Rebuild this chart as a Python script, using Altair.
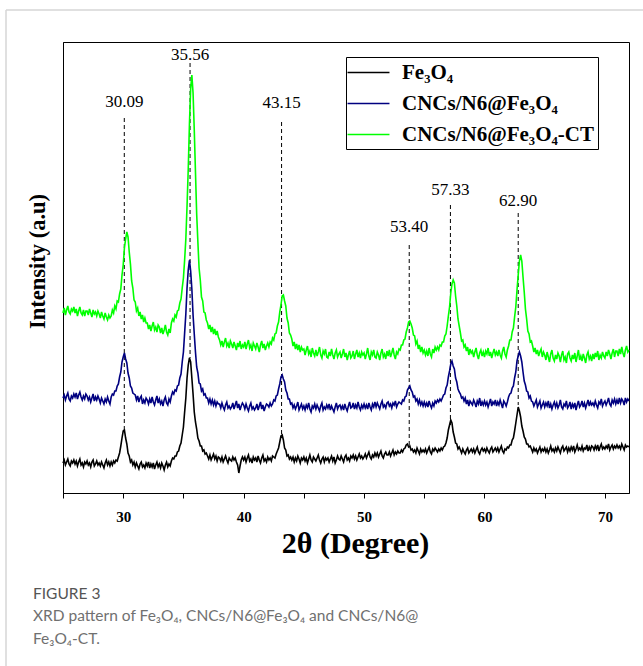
import altair as alt
import pandas as pd

# 2θ sampling of the diffractograms (instrument step)
THETA_START = 25.0
THETA_STEP = 0.1

series_names = ["Fe₃O₄", "CNCs/N6@Fe₃O₄", "CNCs/N6@Fe₃O₄-CT"]
series_colors = ["#000000", "#000080", "#00ff00"]

# Intensities (a.u., offset as in the figure), one row per degree (25.0 ... 72.0)
fe3o4 = [
    30,33,28,31,34,29,27,32,30,33,
    29,32,27,31,34,28,30,26,31,29,
    32,28,30,26,31,33,27,29,32,28,
    30,27,31,28,25,30,33,28,31,27,
    31,28,32,30,33,32,36,40,47,55,
    62,63,55,49,40,37,31,33,28,31,
    26,30,27,24,29,31,26,28,25,30,
    27,31,25,29,26,30,24,28,31,26,
    29,25,30,27,23,28,31,26,29,27,
    32,35,34,37,37,41,42,47,50,58,
    66,81,95,115,128,135,131,115,99,81,
    71,64,55,52,47,47,42,43,39,40,
    37,34,38,33,36,39,34,37,32,36,
    35,32,36,31,34,37,33,30,35,33,
    32,36,33,35,31,28,20,27,33,36,
    33,36,31,35,38,32,34,30,36,33,
    35,31,37,33,30,35,38,32,34,31,
    36,33,35,32,37,36,35,39,42,45,
    51,57,58,53,45,43,37,38,34,36,
    33,36,31,35,32,37,34,30,35,33,
    36,32,35,30,34,38,33,31,36,34,
    32,35,38,33,30,34,36,31,35,33,
    35,31,34,37,32,36,30,33,37,34,
    33,37,34,31,36,38,33,35,32,37,
    35,38,34,37,33,36,39,35,37,34,
    36,39,35,38,41,36,34,38,36,40,
    37,40,36,39,42,37,35,39,41,38,
    38,41,37,40,43,38,41,39,42,40,
    40,43,41,44,45,48,49,46,47,43,
    44,41,43,40,45,42,39,44,41,43,
    41,44,40,43,46,41,39,44,42,45,
    43,41,44,42,45,43,46,47,50,55,
    63,68,73,70,61,56,50,49,44,46,
    43,40,44,41,39,43,45,40,42,44,
    41,44,40,43,46,41,39,43,45,42,
    44,41,45,42,40,44,46,41,43,45,
    42,45,41,44,47,42,40,44,43,46,
    45,48,48,53,55,62,70,78,86,82,
    76,67,62,56,54,49,49,46,47,44,
    41,45,42,44,40,43,46,41,44,42,
    45,41,44,40,43,47,42,44,41,45,
    42,46,43,40,45,47,42,44,46,41,
    45,42,46,43,47,41,44,48,43,45,
    43,47,42,45,44,48,42,46,43,47,
    46,43,47,44,48,42,46,49,44,46,
    44,47,45,49,43,46,48,44,47,45,
    48,45,47,44,49,46,43,48,46,47,
    46,
]

cncs_n6_fe3o4 = [
    95,98,93,97,100,94,92,97,95,99,
    96,100,94,98,101,96,93,97,94,99,
    97,93,96,91,95,99,92,96,93,97,
    94,90,95,92,89,94,91,96,92,89,
    96,99,98,102,102,107,109,116,121,131,
    136,140,134,130,120,115,107,105,100,99,
    98,93,97,91,95,97,89,93,90,95,
    93,89,94,90,96,91,88,93,97,90,
    94,89,92,87,93,96,90,88,94,91,
    97,101,99,103,102,107,108,115,119,131,
    141,160,179,205,223,233,222,204,178,159,
    141,126,120,110,109,102,104,98,99,95,
    95,90,94,89,93,88,92,87,91,89,
    89,85,90,86,83,88,91,85,87,84,
    86,90,84,88,92,85,89,83,87,90,
    88,84,89,85,82,87,90,84,86,83,
    85,89,83,87,91,84,88,82,86,89,
    88,86,90,87,89,93,92,97,98,104,
    109,116,118,114,111,103,100,94,94,89,
    90,85,88,84,87,91,83,86,89,84,
    87,83,88,85,90,84,81,87,85,89,
    84,88,85,82,87,90,83,86,84,88,
    85,89,83,87,84,81,86,90,84,87,
    88,84,87,83,89,85,82,87,91,85,
    86,90,84,88,85,91,86,83,88,85,
    89,85,88,84,90,86,83,89,86,91,
    86,90,87,84,89,92,86,88,85,90,
    91,87,89,85,90,88,92,86,89,91,
    90,89,93,92,96,97,103,105,107,103,
    101,96,97,92,94,89,93,88,91,87,
    91,87,90,86,92,88,85,90,87,92,
    90,93,91,94,92,95,98,99,105,108,
    116,122,129,132,127,124,115,111,104,101,
    99,95,96,92,95,89,93,87,92,90,
    88,93,90,86,92,89,95,87,91,88,
    92,88,91,86,90,94,87,91,89,93,
    87,91,88,93,89,85,92,90,87,91,
    96,99,100,105,107,115,121,132,137,141,
    137,131,121,112,108,102,101,95,97,92,
    91,87,90,93,86,89,92,85,88,91,
    86,90,87,92,85,89,84,88,91,86,
    90,85,88,93,86,84,89,87,92,85,
    87,91,84,89,86,90,83,88,92,86,
    88,92,86,90,85,89,93,87,91,88,
    90,87,92,88,85,91,89,94,87,90,
    92,88,91,95,89,87,93,90,94,89,
    93,89,95,90,94,92,88,95,91,94,
    92,
]

cncs_n6_fe3o4_ct = [
    180,185,178,183,187,181,179,184,182,186,
    180,184,177,182,186,180,178,183,177,182,
    182,178,184,180,176,183,179,181,177,182,
    179,175,181,177,174,180,176,173,178,175,
    177,183,180,187,184,192,191,199,204,218,
    228,245,254,261,256,241,229,212,205,193,
    191,182,185,177,181,174,178,171,175,170,
    170,164,168,162,167,171,163,166,161,168,
    166,160,165,159,163,168,161,158,164,160,
    170,174,172,178,176,182,183,190,194,205,
    215,233,254,287,324,369,404,418,400,363,
    321,279,251,225,213,196,192,181,180,173,
    170,164,168,161,166,159,164,158,162,156,
    153,148,152,146,151,155,147,150,145,152,
    149,145,151,147,143,150,146,152,144,148,
    146,151,144,149,153,145,148,142,150,147,
    144,150,146,141,148,152,145,149,143,147,
    150,146,151,149,155,153,159,160,167,171,
    181,188,197,198,192,187,175,170,160,158,
    154,147,151,144,149,143,148,141,146,143,
    144,138,143,147,139,142,136,145,140,137,
    143,137,141,146,138,135,142,139,144,136,
    135,141,137,144,138,134,140,143,136,139,
    141,135,139,144,136,140,133,138,142,135,
    137,142,134,139,143,136,140,135,141,138,
    140,134,139,145,137,133,141,138,143,136,
    135,141,138,133,140,144,136,139,134,142,
    137,143,136,140,145,138,134,141,139,144,
    143,148,148,153,154,161,165,171,172,169,
    165,158,157,149,152,144,148,141,146,140,
    143,138,142,137,145,139,136,144,140,146,
    143,146,143,148,147,151,151,157,159,167,
    177,186,200,209,213,210,197,187,174,167,
    160,152,153,146,148,142,146,138,144,140,
    142,136,141,145,138,134,140,143,137,141,
    136,142,139,145,137,141,135,140,144,138,
    141,137,143,138,135,142,146,139,136,143,
    147,153,153,161,165,176,186,203,218,232,
    238,232,216,201,184,174,162,159,151,152,
    147,141,145,139,143,137,141,144,136,141,
    138,133,141,136,131,139,143,135,132,138,
    134,140,137,131,138,142,133,136,130,139,
    141,135,132,138,134,140,131,137,143,133,
    137,132,139,135,130,138,141,134,137,132,
    139,134,140,136,142,133,138,135,141,137,
    135,141,137,143,139,134,140,144,136,142,
    142,137,144,139,146,140,136,143,147,141,
    143,
]

# Peak annotations
peak_labels = ["30.09", "35.56", "43.15", "53.40", "57.33", "62.90"]
peak_x = [30.09, 35.55, 43.15, 53.75, 57.17, 62.80]
peak_line_top = [375, 430, 371, 248, 288, 280]
peak_line_bottom = [63, 135, 55, 46, 68, 88]
peak_label_level = [391, 438, 390, 266, 303, 292]

caption_head = "FIGURE 3"
caption_lines = ["XRD pattern of Fe₃O₄, CNCs/N6@Fe₃O₄ and CNCs/N6@", "Fe₃O₄-CT."]

rows = []
for name, vals in zip(series_names, [fe3o4, cncs_n6_fe3o4, cncs_n6_fe3o4_ct]):
    for i, v in enumerate(vals):
        rows.append({"two_theta": round(THETA_START + THETA_STEP * i, 2),
                     "intensity": v, "sample": name})
df = pd.DataFrame(rows)

peaks = pd.DataFrame({"x": peak_x, "top": peak_line_top, "bottom": peak_line_bottom,
                      "label": peak_labels, "ly": peak_label_level})

SERIF = "Liberation Serif"
SANS = "Lato"
xscale = alt.Scale(domain=[25, 72], nice=False, zero=False)
yscale = alt.Scale(domain=[0, 451], nice=False, zero=True)

lines = alt.Chart(df).mark_line(strokeWidth=1.6).encode(
    x=alt.X("two_theta:Q", scale=xscale,
            axis=alt.Axis(values=[25, 30, 35, 40, 45, 50, 55, 60, 65, 70],
                          labelExpr="datum.value % 10 === 0 ? datum.label : ''",
                          title="2θ (Degree)", grid=False, tickSize=5,
                          tickColor="black", domainColor="black",
                          labelFont=SERIF, labelFontSize=15, labelFontWeight="bold",
                          labelColor="black", labelPadding=11,
                          titleFont=SERIF, titleFontSize=30, titleFontWeight="bold",
                          titleColor="black", titlePadding=4, titleX=292)),
    y=alt.Y("intensity:Q", scale=yscale,
            axis=alt.Axis(labels=False, ticks=False, grid=False, domainColor="black",
                          title="Intensity (a.u)", titleFont=SERIF, titleFontSize=22.5,
                          titleFontWeight="bold", titleColor="black", titlePadding=14,
                          titleY=219)),
    color=alt.Color("sample:N",
                    scale=alt.Scale(domain=series_names, range=series_colors),
                    legend=alt.Legend(title=None, orient="none", legendX=283, legendY=15,
                                      symbolType="M-2,0H2", symbolSize=440,
                                      symbolStrokeWidth=1.5, symbolOffset=7,
                                      labelFont=SERIF, labelFontSize=21,
                                      labelFontWeight="bold", labelColor="black",
                                      labelLimit=400, labelOffset=22,
                                      strokeColor="black", fillColor="white",
                                      padding=4, rowPadding=9, cornerRadius=0)),
    detail="sample:N",
)

rules = alt.Chart(peaks).mark_rule(color="black", strokeWidth=1, strokeDash=[4, 3]).encode(
    x=alt.X("x:Q", scale=xscale), y=alt.Y("top:Q", scale=yscale), y2="bottom:Q")

labels = alt.Chart(peaks).mark_text(font=SERIF, fontSize=17, color="black",
                                    baseline="middle", align="center").encode(
    x=alt.X("x:Q", scale=xscale), y=alt.Y("ly:Q", scale=yscale), text="label:N")

frame_df = pd.DataFrame({"k": [0]})
frame_v = alt.Chart(frame_df).mark_rule(color="#d6d6d6", strokeWidth=1.5).encode(
    x=alt.value(-57), y=alt.value(-32), y2=alt.value(624))
frame_h = alt.Chart(frame_df).mark_rule(color="#d6d6d6", strokeWidth=1.5).encode(
    x=alt.value(-57), x2=alt.value(580), y=alt.value(-32))

cap_head = alt.Chart(pd.DataFrame({"t": [caption_head]})).mark_text(
    font=SANS, fontSize=15.5, color="#555555", align="left", baseline="middle"
).encode(x=alt.value(-30), y=alt.value(552), text="t:N")
cap_l1 = alt.Chart(pd.DataFrame({"t": [caption_lines[0]]})).mark_text(
    font=SANS, fontSize=15.5, color="#707070", align="left", baseline="middle"
).encode(x=alt.value(-30), y=alt.value(574), text="t:N")
cap_l2 = alt.Chart(pd.DataFrame({"t": [caption_lines[1]]})).mark_text(
    font=SANS, fontSize=15.5, color="#707070", align="left", baseline="middle"
).encode(x=alt.value(-30), y=alt.value(597), text="t:N")

chart = alt.layer(frame_v, frame_h, rules, lines, labels, cap_head, cap_l1, cap_l2).properties(
    width=566, height=451,
    padding={"left": 63, "top": 42, "right": 14, "bottom": 173},
    autosize=alt.AutoSizeParams(type="none"),
).configure_view(stroke="black", strokeWidth=1)

chart.save("out.html", embed_options={"renderer": "svg", "actions": False})
